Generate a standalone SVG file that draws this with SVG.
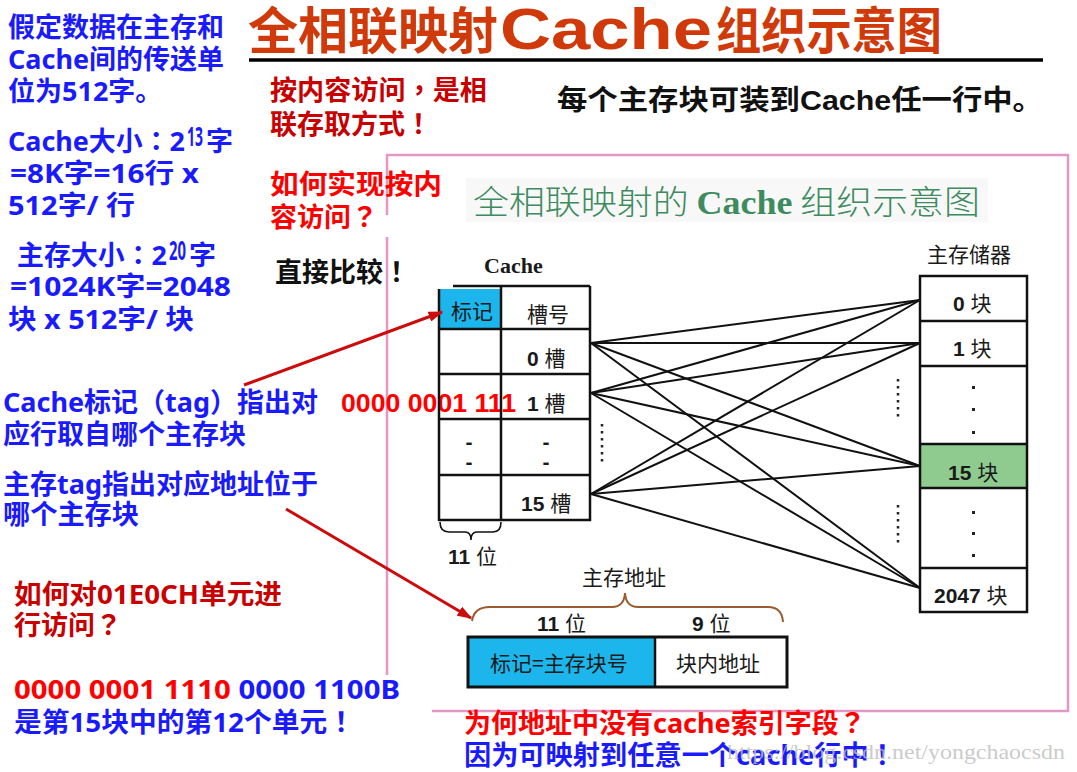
<svg xmlns="http://www.w3.org/2000/svg" width="1077" height="772" viewBox="0 0 1077 772">
<style>
.b{font-family:'Noto Sans','Noto Sans CJK SC',sans-serif;font-weight:700;font-size:27px}
.p{font-family:'Noto Sans CJK TC','Noto Sans CJK SC',sans-serif}
.blue{fill:#1a1aff}
.red{fill:#ff0000}
.dred{fill:#c80000}
.blk{fill:#111}
.lab{font-family:'Liberation Sans','Noto Sans CJK SC',sans-serif;font-size:21px;fill:#1a1a1a}
.cj{font-family:'Noto Sans CJK SC',sans-serif;font-size:21px;fill:#1a1a1a}
.bd{font-weight:700}
.cell{fill:none;stroke:#111;stroke-width:2.5}
.conn{stroke:#111;stroke-width:2;fill:none}
.pink{stroke:#e397c4;stroke-width:2.5;fill:none}
.arrow{stroke:#cc0c0c;stroke-width:3;fill:none;marker-end:url(#ah)}
.dots{stroke:#222;stroke-width:2.5;stroke-dasharray:2.5 4.5}
</style>
<defs>
<marker id="ah" viewBox="0 0 10 7" refX="9" refY="3.5" markerWidth="5" markerHeight="3.5" orient="auto" markerUnits="strokeWidth">
<path d="M0,0 L10,3.5 L0,7 z" fill="#cc0c0c"/>
</marker>
</defs>
<rect width="1077" height="772" fill="#fff"/>

<g id="title">
<text x="248" y="49" font-family="'Liberation Sans','Noto Sans CJK SC',sans-serif" font-weight="700" font-size="50" fill="#d03a0a">全相联映射</text>
<text x="500" y="49" font-family="'Liberation Sans',sans-serif" font-weight="700" font-size="58" fill="#d03a0a" textLength="212" lengthAdjust="spacingAndGlyphs">Cache</text>
<text x="716" y="49" font-family="'Noto Sans CJK SC',sans-serif" font-weight="700" font-size="50" fill="#d03a0a" textLength="226" lengthAdjust="spacingAndGlyphs">组织示意图</text>
<line x1="249" y1="60" x2="1043" y2="60" stroke="#000" stroke-width="3.5"/>
</g>

<g id="pink-frame">
<path class="pink" d="M387,215 L387,155 L1068,155 L1068,711 L432,711"/>
<line class="pink" x1="387" y1="237" x2="387" y2="675"/>
</g>

<g id="left-notes">
<text class="b blue" x="8" y="37" textLength="216" lengthAdjust="spacingAndGlyphs">假定数据在主存和</text>
<text class="b blue" x="8" y="69" textLength="216" lengthAdjust="spacingAndGlyphs">Cache间的传送单</text>
<text class="b blue" x="8" y="101">位为512字。</text>
<text class="b blue" x="8" y="151" textLength="177" lengthAdjust="spacingAndGlyphs">Cache大小<tspan class="p">：</tspan>2</text>
<text class="b blue" x="187" y="146" font-size="15" textLength="16" lengthAdjust="spacingAndGlyphs">13</text>
<text class="b blue" x="206" y="151">字</text>
<text class="b blue" x="10" y="183" textLength="189" lengthAdjust="spacingAndGlyphs">=8K字=16行 x</text>
<text class="b blue" x="8" y="215" textLength="127" lengthAdjust="spacingAndGlyphs">512字/ 行</text>
<text class="b blue" x="17" y="265" textLength="150" lengthAdjust="spacingAndGlyphs">主存大小<tspan class="p">：</tspan>2</text>
<text class="b blue" x="169" y="260" font-size="15" textLength="17" lengthAdjust="spacingAndGlyphs">20</text>
<text class="b blue" x="189" y="265">字</text>
<text class="b blue" x="10" y="296" textLength="221" lengthAdjust="spacingAndGlyphs">=1024K字=2048</text>
<text class="b blue" x="8" y="329" textLength="186" lengthAdjust="spacingAndGlyphs">块 x 512字/ 块</text>
</g>

<g id="red-notes">
<text class="b dred" x="270" y="100" textLength="217" lengthAdjust="spacingAndGlyphs">按内容访问<tspan class="p">，</tspan>是相</text>
<text class="b dred" x="270" y="134">联存取方式<tspan class="p">！</tspan></text>
<text class="b red" x="270" y="194" textLength="172" lengthAdjust="spacingAndGlyphs">如何实现按内</text>
<text class="b red" x="270" y="227">容访问<tspan class="p">？</tspan></text>
<text class="b blk" x="275" y="282" font-size="28">直接比较<tspan class="p">！</tspan></text>
<text x="557" y="110" font-family="'Liberation Sans','Noto Sans CJK SC',sans-serif" font-weight="700" font-size="28" fill="#111" textLength="486" lengthAdjust="spacingAndGlyphs">每个主存块可装到Cache任一行中。</text>
</g>

<g id="tag-notes">
<text class="b blue" x="3" y="412" font-size="26" textLength="315" lengthAdjust="spacingAndGlyphs">Cache标记<tspan class="p">（</tspan>tag<tspan class="p">）</tspan>指出对</text>
<text class="b blue" x="3" y="444" font-size="26" textLength="243" lengthAdjust="spacingAndGlyphs">应行取自哪个主存块</text>
<text x="341" y="412" font-family="'Liberation Sans',sans-serif" font-weight="700" font-size="26" fill="#ff0000" textLength="175" lengthAdjust="spacingAndGlyphs">0000 0001 111</text>
<text class="b blue" x="3" y="494" font-size="26" textLength="315" lengthAdjust="spacingAndGlyphs">主存tag指出对应地址位于</text>
<text class="b blue" x="3" y="524" font-size="26" textLength="136" lengthAdjust="spacingAndGlyphs">哪个主存块</text>
<text class="b dred" x="14" y="604" font-size="26" textLength="268" lengthAdjust="spacingAndGlyphs">如何对01E0CH单元进</text>
<text class="b dred" x="14" y="635" font-size="26">行访问<tspan class="p">？</tspan></text>
<text class="b" x="14" y="699" font-size="27" textLength="386" lengthAdjust="spacingAndGlyphs"><tspan class="red">0000 0001 1110</tspan><tspan class="blue"> 0000 1100B</tspan></text>
<text class="b blue" x="14" y="732" font-size="27" textLength="341" lengthAdjust="spacingAndGlyphs">是第15块中的第12个单元<tspan class="p">！</tspan></text>
</g>

<g id="inner-title">
<rect x="466" y="178" width="522" height="44" fill="#f8f8f8"/>
<text x="473" y="214" font-size="33" fill="#3d8b5e" textLength="507" lengthAdjust="spacingAndGlyphs"><tspan font-family="'Noto Sans CJK SC',sans-serif" font-weight="300">全相联映射的 </tspan><tspan font-family="'Liberation Serif',serif" font-weight="700">Cache</tspan><tspan font-family="'Noto Sans CJK SC',sans-serif" font-weight="300"> 组织示意图</tspan></text>
</g>

<g id="cache">
<text x="484" y="273" font-family="'Liberation Serif',serif" font-weight="700" font-size="22" fill="#1a1a1a">Cache</text>
<rect x="439" y="289" width="62" height="40" fill="#1cb6ec"/>
<line class="cell" x1="453" y1="286" x2="590" y2="286"/>
<path class="cell" d="M439,289 L439,520 L590,520 L590,286"/>
<line class="cell" x1="501" y1="286" x2="501" y2="520"/>
<line class="cell" x1="439" y1="329" x2="590" y2="329"/>
<line class="cell" x1="439" y1="374" x2="590" y2="374"/>
<line class="cell" x1="439" y1="419" x2="590" y2="419"/>
<line class="cell" x1="439" y1="475" x2="590" y2="475"/>
<text class="cj" x="451" y="319" font-size="20">标记</text>
<text class="cj" x="527" y="322">槽号</text>
<text class="lab" x="527" y="366"><tspan class="bd">0</tspan> 槽</text>
<text class="lab" x="527" y="411"><tspan class="bd">1</tspan> 槽</text>
<text class="lab" x="521" y="511"><tspan class="bd">15</tspan> 槽</text>
<text class="lab bd" x="469" y="449" text-anchor="middle">-</text>
<text class="lab bd" x="469" y="469" text-anchor="middle">-</text>
<text class="lab bd" x="546" y="449" text-anchor="middle">-</text>
<text class="lab bd" x="546" y="469" text-anchor="middle">-</text>
<path d="M440,522 Q440,532 449,532 L465,532 Q471,532 471,540 Q471,532 477,532 L493,532 Q501,532 501,522" fill="none" stroke="#111" stroke-width="1.6"/>
<text class="lab" x="448" y="564"><tspan class="bd">11</tspan> 位</text>
<line class="dots" x1="602" y1="424" x2="602" y2="466"/>
</g>

<g id="memory">
<text class="cj" x="927" y="262">主存储器</text>
<rect x="920" y="444" width="107" height="44" fill="#8fcb8f"/>
<rect class="cell" x="920" y="276" width="107" height="336"/>
<line class="cell" x1="920" y1="321" x2="1027" y2="321"/>
<line class="cell" x1="920" y1="366" x2="1027" y2="366"/>
<line class="cell" x1="920" y1="444" x2="1027" y2="444"/>
<line class="cell" x1="920" y1="488" x2="1027" y2="488"/>
<line class="cell" x1="920" y1="568" x2="1027" y2="568"/>
<text class="lab" x="953" y="311"><tspan class="bd">0</tspan> 块</text>
<text class="lab" x="953" y="356"><tspan class="bd">1</tspan> 块</text>
<text class="lab" x="948" y="480" fill="#1c3a1c"><tspan class="bd">15</tspan> 块</text>
<text class="lab" x="934" y="603"><tspan class="bd">2047</tspan> 块</text>
<g fill="#222">
<rect x="972" y="386" width="3" height="3"/>
<rect x="972" y="408" width="3" height="3"/>
<rect x="972" y="431" width="3" height="3"/>
<rect x="972" y="511" width="3" height="3"/>
<rect x="972" y="532" width="3" height="3"/>
<rect x="972" y="554" width="3" height="3"/>
</g>
<line class="dots" x1="898" y1="379" x2="898" y2="419"/>
<line class="dots" x1="898" y1="505" x2="898" y2="545"/>
</g>

<g id="connectors">
<line class="conn" x1="591" y1="343" x2="920" y2="300"/>
<line class="conn" x1="591" y1="343" x2="920" y2="343"/>
<line class="conn" x1="591" y1="343" x2="920" y2="466"/>
<line class="conn" x1="591" y1="343" x2="920" y2="588"/>
<line class="conn" x1="591" y1="393" x2="920" y2="300"/>
<line class="conn" x1="591" y1="393" x2="920" y2="343"/>
<line class="conn" x1="591" y1="393" x2="920" y2="466"/>
<line class="conn" x1="591" y1="393" x2="920" y2="588"/>
<line class="conn" x1="591" y1="494" x2="920" y2="300"/>
<line class="conn" x1="591" y1="494" x2="920" y2="343"/>
<line class="conn" x1="591" y1="494" x2="920" y2="466"/>
<line class="conn" x1="591" y1="494" x2="920" y2="588"/>
<line class="arrow" x1="244" y1="385" x2="442" y2="312"/>
<line class="arrow" x1="286" y1="509" x2="471" y2="618"/>
</g>

<g id="address">
<text class="cj" x="582" y="585" fill="#7b1f1f">主存地址</text>
<path d="M472,621 Q474,607 490,607 L612,607 Q624,607 625,593 Q626,607 638,607 L768,607 Q782,607 783,622" fill="none" stroke="#9b5b2e" stroke-width="2"/>
<text class="lab" x="537" y="631" font-size="22"><tspan class="bd">11</tspan> 位</text>
<text class="lab" x="692" y="631" font-size="22"><tspan class="bd">9</tspan> 位</text>
<rect x="468" y="637" width="187" height="50" fill="#1cb6ec"/>
<rect x="468" y="637" width="319" height="50" fill="none" stroke="#111" stroke-width="3"/>
<line x1="655" y1="637" x2="655" y2="687" stroke="#111" stroke-width="2.5"/>
<text class="cj" x="490" y="671" font-size="23">标记=主存块号</text>
<text class="cj" x="676" y="671" font-size="22">块内地址</text>
</g>

<g id="bottom-notes">
<text class="b red" x="464" y="733">为何地址中没有cache索引字段<tspan class="p">？</tspan></text>
<text class="b blue" x="464" y="765" textLength="432" lengthAdjust="spacingAndGlyphs">因为可映射到任意一个cache行中<tspan class="p">！</tspan></text>
<text x="727" y="759" font-family="'Liberation Serif',serif" font-size="20" fill="#bdbdbd" fill-opacity="0.8" textLength="338" lengthAdjust="spacingAndGlyphs">https://blog.csdn.net/yongchaocsdn</text>
</g>
</svg>
